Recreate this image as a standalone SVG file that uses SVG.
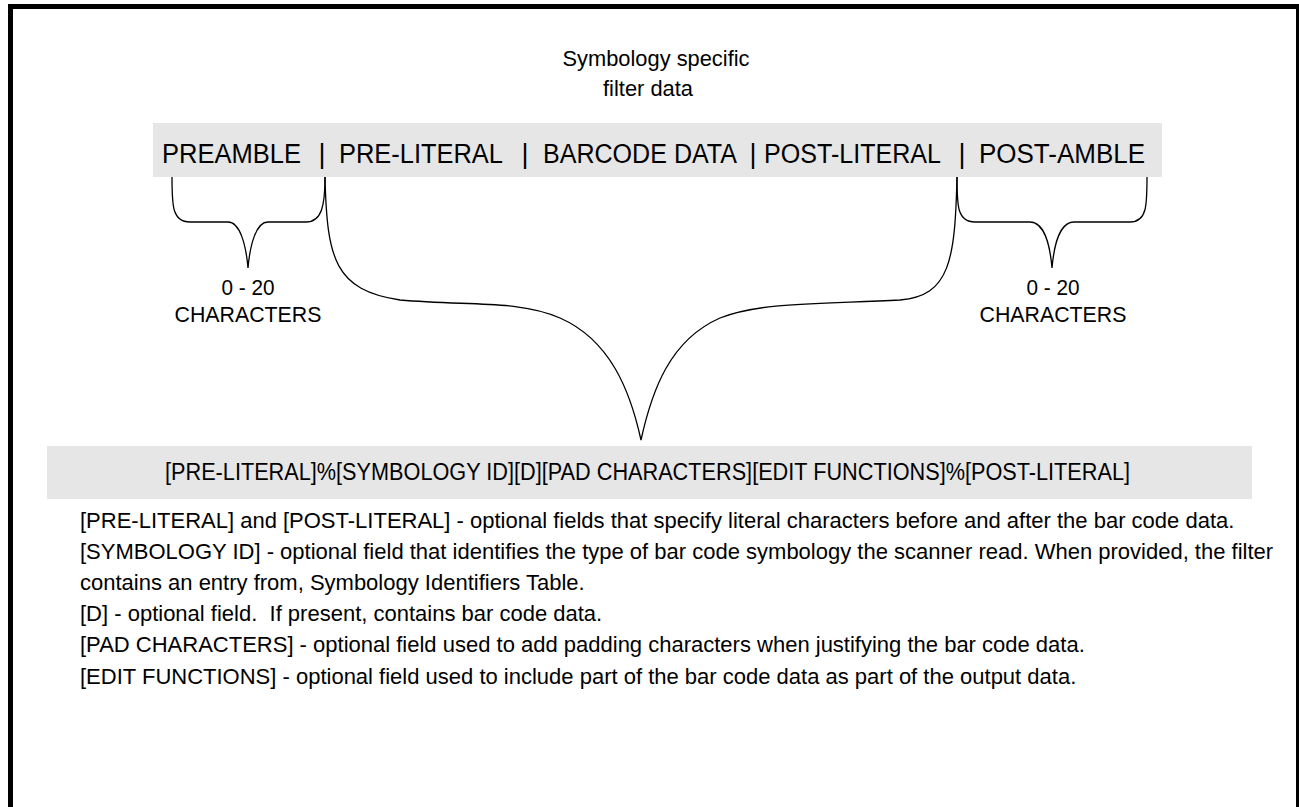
<svg xmlns="http://www.w3.org/2000/svg" width="1299" height="807" viewBox="0 0 1299 807">
<style>
text{font-family:"Liberation Sans",Arial,sans-serif;fill:#000}
.hdr{font-size:27px}
.lbl{font-size:22.5px;text-anchor:middle}
.par{font-size:22px}
.brace{fill:none;stroke:#000;stroke-width:1.3}
.bar{fill:#e6e6e6}
</style>
<rect x="0" y="0" width="1299" height="807" fill="#fff"/>
<rect x="10.5" y="6.5" width="1288" height="820" fill="none" stroke="#000" stroke-width="5"/>
<g id="title">
<text class="lbl" x="656" y="66" textLength="187" lengthAdjust="spacingAndGlyphs">Symbology specific</text>
<text class="lbl" x="648" y="96" textLength="90" lengthAdjust="spacingAndGlyphs">filter data</text>
</g>
<g id="format-bar">
<rect class="bar" x="153" y="123" width="1009" height="54"/>
<text class="hdr" x="162" y="163" textLength="139" lengthAdjust="spacingAndGlyphs">PREAMBLE</text>
<text class="hdr" x="322" y="163" text-anchor="middle">|</text>
<text class="hdr" x="339" y="163" textLength="164" lengthAdjust="spacingAndGlyphs">PRE-LITERAL</text>
<text class="hdr" x="525" y="163" text-anchor="middle">|</text>
<text class="hdr" x="543" y="163" textLength="194" lengthAdjust="spacingAndGlyphs">BARCODE DATA</text>
<text class="hdr" x="753" y="163" text-anchor="middle">|</text>
<text class="hdr" x="764" y="163" textLength="177" lengthAdjust="spacingAndGlyphs">POST-LITERAL</text>
<text class="hdr" x="962" y="163" text-anchor="middle">|</text>
<text class="hdr" x="979" y="163" textLength="166" lengthAdjust="spacingAndGlyphs">POST-AMBLE</text>
</g>
<g id="connectors">
<path class="brace" d="M172,177 C172,205 172,222 190,222 L228,222 C240,222 246,245 248,268 C250,245 256,222 268,222 L306,222 C322,222 325,205 325,177"/>
<path class="brace" d="M957,177 C957,205 957,222 975,222 L1030,222 C1044,222 1050,245 1052,268 C1054,245 1060,222 1074,222 L1130,222 C1147,222 1147,205 1147,177"/>
<path class="brace" d="M325,177 C327,260 335,290 400,300 C470,306 520,300 560,318 C610,340 630,390 641,440 C652,390 670,340 720,318 C760,302 820,304 900,300 C950,296 955,260 957,177"/>
</g>
<g id="count-left">
<text class="lbl" x="248" y="295" textLength="53" lengthAdjust="spacingAndGlyphs">0 - 20</text>
<text class="lbl" x="248" y="322" textLength="147" lengthAdjust="spacingAndGlyphs">CHARACTERS</text>
</g>
<g id="count-right">
<text class="lbl" x="1053" y="295" textLength="53" lengthAdjust="spacingAndGlyphs">0 - 20</text>
<text class="lbl" x="1053" y="322" textLength="147" lengthAdjust="spacingAndGlyphs">CHARACTERS</text>
</g>
<g id="filter-bar">
<rect class="bar" x="47" y="446" width="1205" height="53"/>
<text x="647.5" y="480" font-size="23" text-anchor="middle" textLength="965" lengthAdjust="spacingAndGlyphs">[PRE-LITERAL]%[SYMBOLOGY ID][D][PAD CHARACTERS][EDIT FUNCTIONS]%[POST-LITERAL]</text>
</g>
<g id="notes">
<text class="par" x="80" y="528">[PRE-LITERAL] and [POST-LITERAL] - optional fields that specify literal characters before and after the bar code data.</text>
<text class="par" x="80" y="559">[SYMBOLOGY ID] - optional field that identifies the type of bar code symbology the scanner read. When provided, the filter</text>
<text class="par" x="80" y="590">contains an entry from, Symbology Identifiers Table.</text>
<text class="par" x="80" y="621" xml:space="preserve">[D] - optional field.  If present, contains bar code data.</text>
<text class="par" x="80" y="652">[PAD CHARACTERS] - optional field used to add padding characters when justifying the bar code data.</text>
<text class="par" x="80" y="684">[EDIT FUNCTIONS] - optional field used to include part of the bar code data as part of the output data.</text>
</g>
</svg>
